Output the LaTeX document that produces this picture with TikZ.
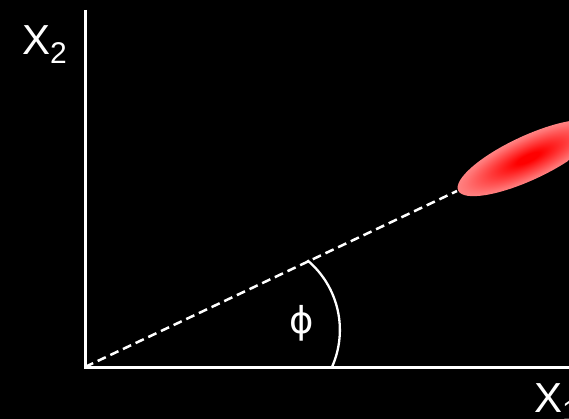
\documentclass[tikz,border=0pt]{standalone}
\usepackage{fontspec}
\setmainfont{Liberation Sans}
\newfontfamily\greekfont{DejaVu Sans}
\usetikzlibrary{positioning}
\pgfdeclareradialshading{redblob}{\pgfpoint{0bp}{0bp}}{color(0bp)=(red); color(4bp)=(red); color(22bp)=(red!55!white); color(50bp)=(white)}
\begin{document}
\begin{tikzpicture}[
  x=1pt,y=-1pt,
  axis/.style={draw=white,line width=3pt},
  ray/.style={draw=white,line width=2.5pt,dash pattern=on 9pt off 5pt},
  anglearc/.style={draw=white,line width=2.3pt},
  lbl/.style={text=white,inner sep=0pt,font=\fontsize{42}{42}\selectfont}
]
\useasboundingbox (0,0) rectangle (569,419);
\fill[black] (0,0) rectangle (569,419);
\coordinate (origin) at (85,367);
\coordinate (xend) at (572,367);
\coordinate (yend) at (85,10);
\coordinate (tip) at (457,191);
\coordinate (arcstart) at (332,367);
% blob
\shade[shading=redblob,transform canvas={shift={(528,158)},rotate=25}] (0,0) ellipse [x radius=77, y radius=22];
% axes and ray
\draw[axis] (yend) -- (origin) -- (xend);
\draw[ray] (origin) -- (tip);
\draw[anglearc] (arcstart) arc[start angle=24,end angle=-50,radius=91];
\node[lbl,anchor=base west] (xtwo) at (22,55) {X\raisebox{-9pt}{\fontsize{30}{30}\selectfont 2}};
\node[lbl,anchor=base west] (xone) at (534,412) {X\raisebox{-9pt}{\fontsize{30}{30}\selectfont 1}};
\node[text=white,font=\greekfont\fontsize{37}{37}\selectfont] (phi) at (302,323) {ϕ};
\end{tikzpicture}
\end{document}
